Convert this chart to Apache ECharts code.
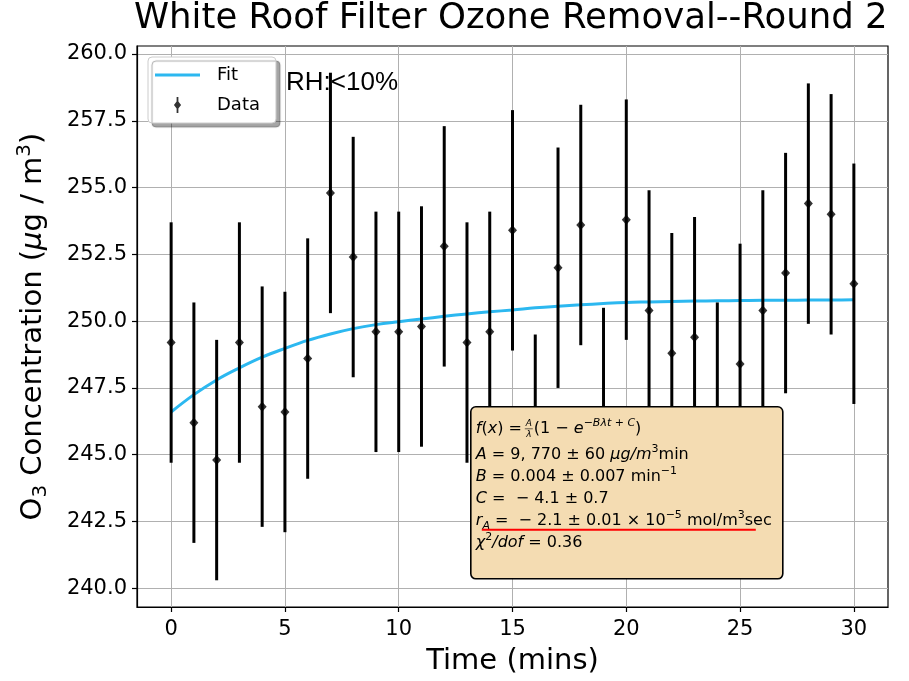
<!DOCTYPE html>
<html>
<head>
<meta charset="utf-8">
<script src="https://cdn.jsdelivr.net/npm/echarts@6/dist/echarts.min.js"></script>
<style>
    html, body { margin: 0; padding: 0; background: #fff; }
    #main { width: 909px; height: 681px; }
</style>
</head>
<body>
<div id="main"></div>
<script>
    // measured data (time in mins, O3 in ug/m3)
    var times = [0, 1, 2, 3, 4, 5, 6, 7, 8, 9, 10, 11, 12, 13, 14, 15, 16, 17, 18, 19, 20, 21, 22, 23, 24, 25, 26, 27, 28, 29, 30];
    var conc = [249.2, 246.2, 244.8, 249.2, 246.8, 246.6, 248.6, 254.8, 252.4, 249.6, 249.6, 249.8, 252.8, 249.2, 249.6, 253.4,
                245.0, 252.0, 253.6, 246.0, 253.8, 250.4, 248.8, 249.4, 246.2, 248.4, 250.4, 251.8, 254.4, 254.0, 251.4];
    var errs = [4.5, 4.5, 4.5, 4.5, 4.5, 4.5, 4.5, 4.5, 4.5, 4.5, 4.5, 4.5, 4.5, 4.5, 4.5, 4.5,
                4.5, 4.5, 4.5, 4.5, 4.5, 4.5, 4.5, 4.5, 4.5, 4.5, 4.5, 4.5, 4.5, 4.5, 4.5];
    // fit curve
    var fitVals = [246.6, 247.25, 247.8, 248.25, 248.65, 248.98, 249.28, 249.52, 249.72, 249.87, 249.98, 250.08, 250.18, 250.27, 250.35, 250.42,
                   250.5, 250.56, 250.61, 250.66, 250.7, 250.72, 250.74, 250.75, 250.76, 250.77, 250.78, 250.78, 250.79, 250.79, 250.8];
    // tick labels
    var xTicks = [0, 5, 10, 15, 20, 25, 30];
    var yTicks = [240, 242.5, 245, 247.5, 250, 252.5, 255, 257.5, 260];

    var FONT = 'DejaVu Sans';

    var fitData = times.map(function (t, i) { return [t, fitVals[i]]; });
    var pointData = times.map(function (t, i) { return [t, conc[i]]; });
    var barData = times.map(function (t, i) { return [t, conc[i] - errs[i], conc[i] + errs[i]]; });

    var myChart = echarts.init(document.getElementById('main'));

    var boxRich = {
        i: {fontFamily: FONT, fontSize: 16, fontStyle: 'italic', color: '#000', lineHeight: 22},
        sup: {fontFamily: FONT, fontSize: 11, color: '#000', lineHeight: 10, verticalAlign: 'top'},
        isup: {fontFamily: FONT, fontSize: 11, fontStyle: 'italic', color: '#000', lineHeight: 10, verticalAlign: 'top'},
        sub: {fontFamily: FONT, fontSize: 11, fontStyle: 'italic', color: '#000', lineHeight: 12, verticalAlign: 'bottom'}
    };

    option = {
        backgroundColor: '#fff',
        animation: false,
        title: {
            text: 'White Roof Filter Ozone Removal--Round 2',
            left: 134,
            top: 1,
            padding: 0,
            textStyle: {fontFamily: FONT, fontSize: 35.5, fontWeight: 'normal', color: '#000'}
        },
        legend: {
            orient: 'vertical',
            left: 148,
            top: 57,
            padding: [9, 16, 9, 7],
            itemGap: 12,
            itemWidth: 45,
            itemHeight: 16,
            backgroundColor: '#fff',
            borderColor: '#cccccc',
            borderWidth: 1,
            borderRadius: 4,
            shadowColor: 'rgba(0,0,0,0.35)',
            shadowBlur: 1,
            shadowOffsetX: 4,
            shadowOffsetY: 4,
            textStyle: {fontFamily: FONT, fontSize: 18, color: '#000', padding: [0, 0, 0, 12]},
            data: [
                {name: 'Fit', icon: 'path://M0,0 L45,0 L45,3 L0,3 Z', itemStyle: {color: '#2cb8f0'}},
                {name: 'Data', icon: 'path://M4,0 L6,0 L6,5 L9,9 L6,13 L6,18 L4,18 L4,13 L1,9 L4,5 Z'}
            ]
        },
        grid: {
            left: 137,
            right: 21,
            top: 46,
            bottom: 74,
            show: true,
            backgroundColor: '#fff',
            borderColor: '#000',
            borderWidth: 1.2
        },
        xAxis: {
            type: 'value',
            min: -1.5,
            max: 31.5,
            name: 'Time (mins)',
            nameLocation: 'middle',
            nameGap: 40,
            nameTextStyle: {fontFamily: FONT, fontSize: 29, color: '#000'},
            axisLine: {onZero: false, lineStyle: {color: '#000', width: 1.2}},
            axisTick: {show: true, customValues: xTicks, length: 5, lineStyle: {color: '#000', width: 1.2}},
            axisLabel: {customValues: xTicks, margin: 12, fontFamily: FONT, fontSize: 21, color: '#000'},
            splitLine: {show: true, lineStyle: {color: '#b0b0b0', width: 1}}
        },
        yAxis: {
            type: 'value',
            min: 239.3,
            max: 260.3,
            name: 'O{sub|3} Concentration ({i|μ}g / m{sup|3})',
            nameLocation: 'middle',
            nameRotate: 90,
            nameGap: 86,
            nameTextStyle: {
                fontFamily: FONT, fontSize: 29, color: '#000', lineHeight: 36,
                rich: {
                    sub: {fontFamily: FONT, fontSize: 20, color: '#000', lineHeight: 18, verticalAlign: 'bottom'},
                    sup: {fontFamily: FONT, fontSize: 20, color: '#000', lineHeight: 18, verticalAlign: 'top'},
                    i: {fontFamily: FONT, fontSize: 29, fontStyle: 'italic', color: '#000', lineHeight: 36}
                }
            },
            axisLine: {show: true, onZero: false, lineStyle: {color: '#000', width: 1.2}},
            axisTick: {show: true, customValues: yTicks, length: 5, lineStyle: {color: '#000', width: 1.2}},
            axisLabel: {
                customValues: yTicks, margin: 10, fontFamily: FONT, fontSize: 21, color: '#000',
                formatter: function (v) { return v.toFixed(1); }
            },
            splitLine: {show: true, lineStyle: {color: '#b0b0b0', width: 1}}
        },
        graphic: [
            {
                type: 'text', left: 286, top: 70, z: 50,
                style: {text: 'RH:<10%', fontFamily: 'Liberation Sans', fontSize: 26, fill: '#000'}
            },
            {
                type: 'group', left: 470, top: 406, z: 100,
                children: [
                    {
                        type: 'rect', z: 100, shape: {x: 0, y: 0, width: 312, height: 172, r: 5},
                        style: {fill: '#f4dcb2', stroke: '#000', lineWidth: 1.6}
                    },
                    // first line: f(x) = A/λ (1 - e^(-Bλt + C))
                    {
                        type: 'text', z: 101, x: 5, y: 11,
                        style: {
                            text: '{i|f}({i|x}) =', fontFamily: FONT, fontSize: 16, fill: '#000', lineHeight: 22,
                            rich: boxRich
                        }
                    },
                    {type: 'text', z: 101, x: 58, y: 12, style: {text: 'A', fontFamily: FONT, fontSize: 9, fontStyle: 'italic', fill: '#000', align: 'center'}},
                    {type: 'line', z: 101, shape: {x1: 54, y1: 22, x2: 62, y2: 22}, style: {stroke: '#000', lineWidth: 0.6}},
                    {type: 'text', z: 101, x: 58, y: 23, style: {text: 'λ', fontFamily: FONT, fontSize: 9, fontStyle: 'italic', fill: '#000', align: 'center'}},
                    {
                        type: 'text', z: 101, x: 63, y: 11,
                        style: {
                            text: '(1 − {i|e}{isup|−Bλt + C})', fontFamily: FONT, fontSize: 16, fill: '#000', lineHeight: 22,
                            rich: boxRich
                        }
                    },
                    {
                        type: 'text', z: 101, x: 5, y: 37,
                        style: {
                            text: [
                                '{i|A} = 9, 770 ± 60 {i|μg/m}{sup|3}min',
                                '{i|B} = 0.004 ± 0.007 min{sup|−1}',
                                '{i|C} =  − 4.1 ± 0.7',
                                '{i|r}{sub|A} =  − 2.1 ± 0.01 × 10{sup|−5} mol/m{sup|3}sec',
                                '{i|χ}{sup|2}{i|/dof} = 0.36'
                            ].join('\n'),
                            fontFamily: FONT, fontSize: 16, fill: '#000', lineHeight: 22,
                            rich: boxRich
                        }
                    },
                    {type: 'line', z: 102, shape: {x1: 11, y1: 123, x2: 285, y2: 123}, style: {stroke: '#ff0000', lineWidth: 2}}
                ]
            }
        ],
        series: [
            {
                name: 'Fit',
                type: 'line',
                data: fitData,
                smooth: 0.4,
                symbol: 'none',
                z: 2,
                lineStyle: {color: '#2cb8f0', width: 3},
                itemStyle: {color: '#2cb8f0'}
            },
            {
                name: 'Error',
                type: 'custom',
                data: barData,
                z: 3,
                encode: {x: 0, y: [1, 2]},
                renderItem: function (params, api) {
                    var x = api.value(0);
                    var p1 = api.coord([x, api.value(1)]);
                    var p2 = api.coord([x, api.value(2)]);
                    return {
                        type: 'line',
                        shape: {x1: p1[0], y1: p1[1], x2: p2[0], y2: p2[1]},
                        style: {stroke: '#000', lineWidth: 3}
                    };
                }
            },
            {
                name: 'Data',
                type: 'scatter',
                data: pointData,
                symbol: 'diamond',
                symbolSize: [9, 10],
                z: 4,
                itemStyle: {color: '#000'}
            }
        ]
    };

    myChart.setOption(option);
</script>
</body>
</html>
